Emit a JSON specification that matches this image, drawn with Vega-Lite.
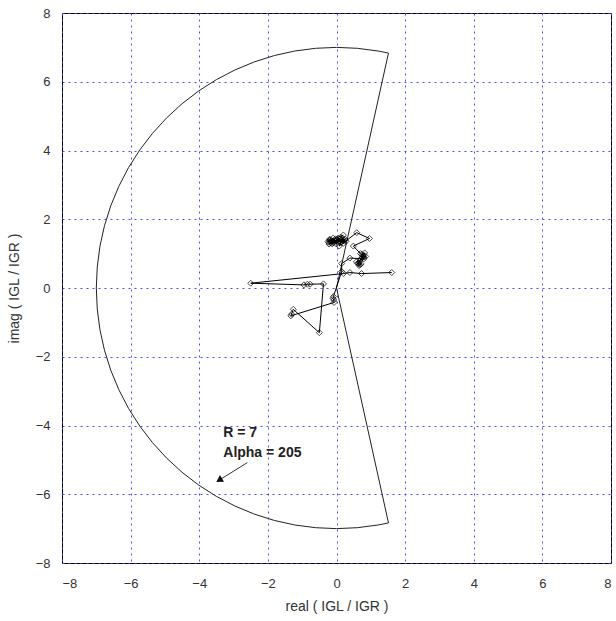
{
  "$schema": "https://vega.github.io/schema/vega-lite/v6.json",
  "width": 549,
  "height": 550,
  "autosize": {"type": "none"},
  "padding": {"left": 62, "top": 13, "right": 5, "bottom": 58},
  "background": "white",
  "config": {
    "view": {"stroke": "#000000", "strokeWidth": 1},
    "font": "Liberation Sans",
    "axis": {
      "domain": false,
      "ticks": false,
      "grid": true,
      "gridColor": "#3a3af0",
      "gridDash": [2, 4],
      "gridWidth": 1,
      "gridOpacity": 0.9,
      "labelFont": "Liberation Sans",
      "labelFontSize": 13,
      "labelColor": "#333333",
      "titleFont": "Liberation Sans",
      "titleFontSize": 14,
      "titleFontWeight": "normal",
      "titleColor": "#333333"
    }
  },
  "datasets": {
    "wedge": [
      {"o": 0, "x": 0, "y": 0},
      {"o": 1, "x": 1.515, "y": 6.834},
      {"o": 2, "x": 1.216, "y": 6.894},
      {"o": 3, "x": 0.61, "y": 6.973},
      {"o": 4, "x": 0, "y": 7},
      {"o": 5, "x": -0.61, "y": 6.973},
      {"o": 6, "x": -1.216, "y": 6.894},
      {"o": 7, "x": -1.812, "y": 6.762},
      {"o": 8, "x": -2.394, "y": 6.578},
      {"o": 9, "x": -2.958, "y": 6.344},
      {"o": 10, "x": -3.5, "y": 6.062},
      {"o": 11, "x": -4.015, "y": 5.734},
      {"o": 12, "x": -4.5, "y": 5.362},
      {"o": 13, "x": -4.95, "y": 4.95},
      {"o": 14, "x": -5.362, "y": 4.5},
      {"o": 15, "x": -5.734, "y": 4.015},
      {"o": 16, "x": -6.062, "y": 3.5},
      {"o": 17, "x": -6.344, "y": 2.958},
      {"o": 18, "x": -6.578, "y": 2.394},
      {"o": 19, "x": -6.762, "y": 1.812},
      {"o": 20, "x": -6.894, "y": 1.216},
      {"o": 21, "x": -6.973, "y": 0.61},
      {"o": 22, "x": -7, "y": 0},
      {"o": 23, "x": -6.973, "y": -0.61},
      {"o": 24, "x": -6.894, "y": -1.216},
      {"o": 25, "x": -6.762, "y": -1.812},
      {"o": 26, "x": -6.578, "y": -2.394},
      {"o": 27, "x": -6.344, "y": -2.958},
      {"o": 28, "x": -6.062, "y": -3.5},
      {"o": 29, "x": -5.734, "y": -4.015},
      {"o": 30, "x": -5.362, "y": -4.5},
      {"o": 31, "x": -4.95, "y": -4.95},
      {"o": 32, "x": -4.5, "y": -5.362},
      {"o": 33, "x": -4.015, "y": -5.734},
      {"o": 34, "x": -3.5, "y": -6.062},
      {"o": 35, "x": -2.958, "y": -6.344},
      {"o": 36, "x": -2.394, "y": -6.578},
      {"o": 37, "x": -1.812, "y": -6.762},
      {"o": 38, "x": -1.216, "y": -6.894},
      {"o": 39, "x": -0.61, "y": -6.973},
      {"o": 40, "x": 0, "y": -7},
      {"o": 41, "x": 0.61, "y": -6.973},
      {"o": 42, "x": 1.216, "y": -6.894},
      {"o": 43, "x": 1.515, "y": -6.834},
      {"o": 44, "x": 0, "y": 0}
    ],
    "traj": [
      {"o": 1, "x": 0.2, "y": 1.54},
      {"o": 2, "x": -0.25, "y": 1.35},
      {"o": 3, "x": -0.2, "y": 1.42},
      {"o": 4, "x": -0.15, "y": 1.3},
      {"o": 5, "x": -0.1, "y": 1.45},
      {"o": 6, "x": -0.05, "y": 1.38},
      {"o": 7, "x": 0.0, "y": 1.28},
      {"o": 8, "x": 0.05, "y": 1.45},
      {"o": 9, "x": 0.1, "y": 1.35},
      {"o": 10, "x": 0.15, "y": 1.4},
      {"o": 11, "x": 0.2, "y": 1.3},
      {"o": 12, "x": 0.25, "y": 1.42},
      {"o": 13, "x": -0.22, "y": 1.28},
      {"o": 14, "x": -0.12, "y": 1.37},
      {"o": 15, "x": 0.02, "y": 1.33},
      {"o": 16, "x": 0.12, "y": 1.48},
      {"o": 17, "x": 0.28, "y": 1.36},
      {"o": 18, "x": -0.18, "y": 1.4},
      {"o": 19, "x": -0.22, "y": 1.33},
      {"o": 20, "x": -0.16, "y": 1.36},
      {"o": 21, "x": -0.08, "y": 1.32},
      {"o": 22, "x": 0.0, "y": 1.4},
      {"o": 23, "x": 0.06, "y": 1.36},
      {"o": 24, "x": 0.14, "y": 1.33},
      {"o": 25, "x": 0.22, "y": 1.38},
      {"o": 26, "x": -0.2, "y": 1.38},
      {"o": 27, "x": -0.03, "y": 1.43},
      {"o": 28, "x": 0.1, "y": 1.42},
      {"o": 29, "x": -0.12, "y": 1.29},
      {"o": 30, "x": 0.18, "y": 1.44},
      {"o": 31, "x": 0.08, "y": 1.22},
      {"o": 32, "x": 0.59, "y": 1.61},
      {"o": 33, "x": 0.96, "y": 1.44},
      {"o": 34, "x": 0.49, "y": 1.22},
      {"o": 35, "x": 0.7, "y": 1.0},
      {"o": 36, "x": 0.78, "y": 0.95},
      {"o": 37, "x": 0.82, "y": 1.02},
      {"o": 38, "x": 0.74, "y": 0.98},
      {"o": 39, "x": 0.75, "y": 0.88},
      {"o": 40, "x": 0.85, "y": 0.92},
      {"o": 41, "x": 0.8, "y": 0.9},
      {"o": 42, "x": 0.76, "y": 0.93},
      {"o": 43, "x": 0.7, "y": 0.84},
      {"o": 44, "x": 0.68, "y": 0.78},
      {"o": 45, "x": 0.62, "y": 0.72},
      {"o": 46, "x": 0.65, "y": 0.7},
      {"o": 47, "x": 0.72, "y": 0.7},
      {"o": 48, "x": 0.68, "y": 0.68},
      {"o": 49, "x": 0.66, "y": 0.65},
      {"o": 50, "x": 0.58, "y": 0.76},
      {"o": 51, "x": 0.8, "y": 0.85},
      {"o": 52, "x": 0.39, "y": 0.87},
      {"o": 53, "x": 0.15, "y": 0.71},
      {"o": 54, "x": 0.15, "y": 0.48},
      {"o": 55, "x": -0.09, "y": -0.25},
      {"o": 56, "x": -0.1, "y": -0.3},
      {"o": 57, "x": -0.08, "y": -0.35},
      {"o": 58, "x": -0.07, "y": -0.42},
      {"o": 59, "x": -1.33, "y": -0.81},
      {"o": 60, "x": -1.31, "y": -0.76},
      {"o": 61, "x": -1.26, "y": -0.62},
      {"o": 62, "x": -0.5, "y": -1.3},
      {"o": 63, "x": -0.38, "y": 0.12},
      {"o": 64, "x": -0.77, "y": 0.11},
      {"o": 65, "x": -0.85, "y": 0.11},
      {"o": 66, "x": -0.95, "y": 0.09},
      {"o": 67, "x": -2.5, "y": 0.14},
      {"o": 68, "x": 0.2, "y": 0.42},
      {"o": 69, "x": 0.39, "y": 0.45},
      {"o": 70, "x": 0.73, "y": 0.42},
      {"o": 71, "x": 1.61, "y": 0.45}
    ],
    "labels": [
      {"x": -3.3, "y": -4.22, "t": "R = 7"},
      {"x": -3.3, "y": -4.8, "t": "Alpha = 205"}
    ],
    "arrow": [
      {"o": 0, "x": -2.6, "y": -5.08},
      {"o": 1, "x": -3.42, "y": -5.59}
    ],
    "head": [
      {"x": -3.42, "y": -5.59}
    ]
  },
  "layer": [
    {
      "data": {"name": "wedge"},
      "mark": {"type": "line", "color": "#222222", "strokeWidth": 1},
      "encoding": {
        "x": {"field": "x", "type": "quantitative", "scale": {"domain": [-8, 8], "nice": false, "zero": false}, "axis": {"values": [-8, -6, -4, -2, 0, 2, 4, 6, 8], "title": "real ( IGL / IGR )", "labelPadding": 14, "titlePadding": 9}},
        "y": {"field": "y", "type": "quantitative", "scale": {"domain": [-8, 8], "nice": false, "zero": false}, "axis": {"values": [-8, -6, -4, -2, 0, 2, 4, 6, 8], "title": "imag ( IGL / IGR )", "labelPadding": 12, "titlePadding": 14}},
        "order": {"field": "o", "type": "quantitative"}
      }
    },
    {
      "data": {"name": "traj"},
      "mark": {"type": "line", "color": "#000000", "strokeWidth": 1},
      "encoding": {
        "x": {"field": "x", "type": "quantitative"},
        "y": {"field": "y", "type": "quantitative"},
        "order": {"field": "o", "type": "quantitative"}
      }
    },
    {
      "data": {"name": "traj"},
      "mark": {"type": "point", "shape": "diamond", "filled": false, "stroke": "#000000", "strokeWidth": 1, "size": 36},
      "encoding": {
        "x": {"field": "x", "type": "quantitative"},
        "y": {"field": "y", "type": "quantitative"}
      }
    },
    {
      "data": {"name": "labels"},
      "mark": {"type": "text", "align": "left", "baseline": "middle", "fontSize": 14, "fontWeight": "bold", "font": "Liberation Sans", "color": "#222222"},
      "encoding": {
        "x": {"field": "x", "type": "quantitative"},
        "y": {"field": "y", "type": "quantitative"},
        "text": {"field": "t"}
      }
    },
    {
      "data": {"name": "arrow"},
      "mark": {"type": "line", "color": "#333333", "strokeWidth": 1},
      "encoding": {
        "x": {"field": "x", "type": "quantitative"},
        "y": {"field": "y", "type": "quantitative"},
        "order": {"field": "o", "type": "quantitative"}
      }
    },
    {
      "data": {"name": "head"},
      "mark": {"type": "point", "shape": "triangle-up", "filled": true, "color": "#111111", "size": 60, "angle": 238.5, "opacity": 1},
      "encoding": {
        "x": {"field": "x", "type": "quantitative"},
        "y": {"field": "y", "type": "quantitative"}
      }
    }
  ]
}
